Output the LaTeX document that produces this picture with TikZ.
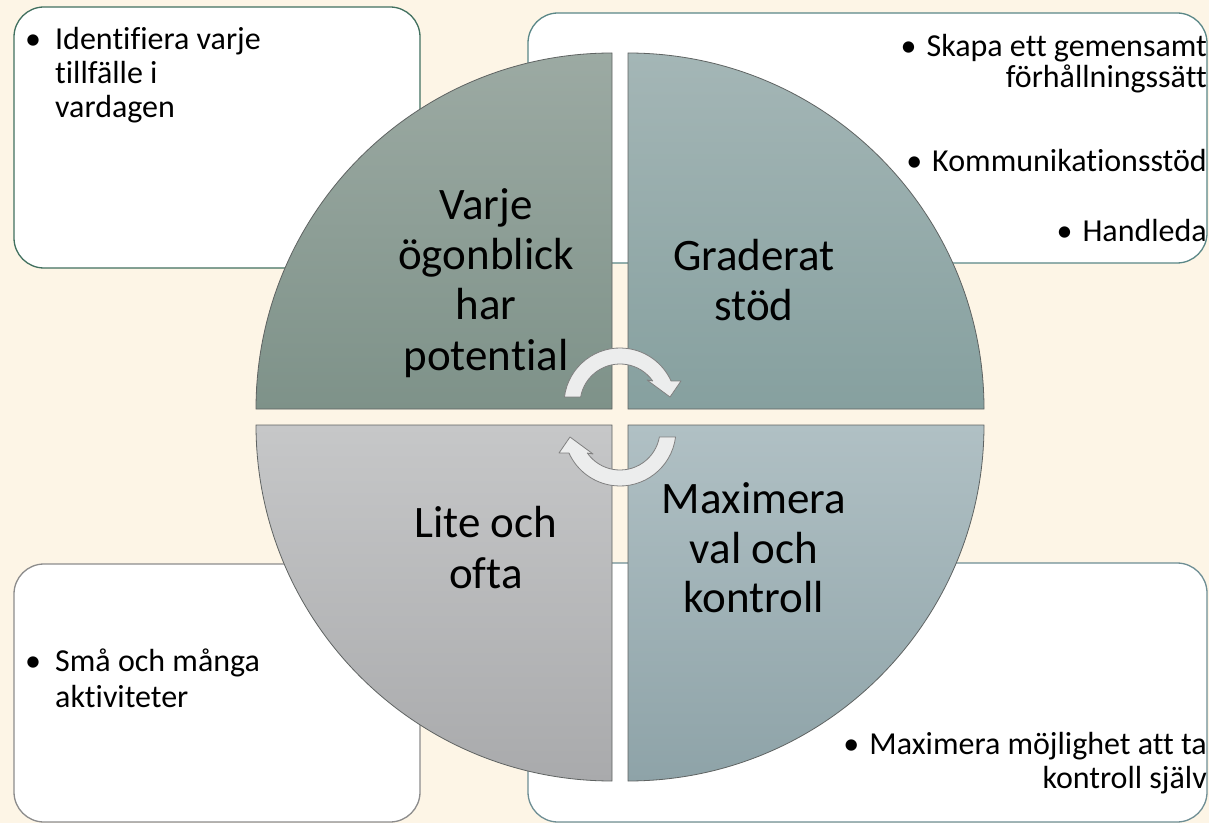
\documentclass[tikz,border=0pt]{standalone}
\usepackage{fontspec}
\setmainfont{Carlito}[Ligatures={NoCommon,NoRequired,NoContextual}]
\definecolor{bg}{HTML}{FDF5E6}
\definecolor{tlA}{HTML}{9CAAA3}\definecolor{tlB}{HTML}{7E9289}
\definecolor{trA}{HTML}{A4B6B6}\definecolor{trB}{HTML}{86A09F}
\definecolor{blA}{HTML}{C6C7C8}\definecolor{blB}{HTML}{A9AAAC}
\definecolor{brA}{HTML}{B0C0C4}\definecolor{brB}{HTML}{8EA3A8}
\definecolor{qline}{HTML}{5F6362}
\definecolor{tlbox}{HTML}{41705F}\definecolor{trbox}{HTML}{5A8787}
\definecolor{blbox}{HTML}{8C8C8C}\definecolor{brbox}{HTML}{6E8E94}
\definecolor{arrfill}{HTML}{ECEDED}\definecolor{arrline}{HTML}{808080}
\tikzset{
  infobox/.style={fill=white, line width=1.3pt, rounded corners=30pt},
  quad/.style={draw=qline, line width=0.8pt},
  cyclearrow/.style={fill=arrfill, draw=arrline, line width=0.8pt, line join=round},
  qtext/.style={font=\fontsize{45}{50}\selectfont, anchor=base, inner sep=0pt},
  btext/.style={font=\fontsize{32}{34}\selectfont, inner sep=0pt},
}
\begin{document}
\begin{tikzpicture}[x=1pt,y=1pt]
\useasboundingbox (0,0) rectangle (1209,823);
\fill[bg] (0,0) rectangle (1209,823);
% boxes
\draw[infobox, draw=tlbox] (14,555) rectangle (420,816);
\draw[infobox, draw=trbox] (528,560) rectangle (1207,810);
\draw[infobox, draw=blbox] (14,1) rectangle (420,259);
\draw[infobox, draw=brbox] (528,1) rectangle (1207,260);
% quadrants
\path[quad, top color=tlA, bottom color=tlB] (612,414) -- (256,414) arc[start angle=180, end angle=90, radius=356] -- cycle;
\path[quad, top color=trA, bottom color=trB] (628,414) -- (628,770) arc[start angle=90, end angle=0, radius=356] -- cycle;
\path[quad, top color=brA, bottom color=brB] (628,398) -- (984,398) arc[start angle=0, end angle=-90, radius=356] -- cycle;
\path[quad, top color=blA, bottom color=blB] (612,398) -- (612,42) arc[start angle=270, end angle=180, radius=356] -- cycle;
% circular arrows
\begin{scope}[shift={(620,419)}]
\path[cyclearrow] (172.8:56) arc[start angle=172.8, end angle=24.2, radius=56] -- (61,23) -- (50,7) -- (27,24) -- (35.1:40) arc[start angle=35.1, end angle=169.9, radius=40] -- cycle;
\end{scope}
\begin{scope}[shift={(620,393)}, rotate=180]
\path[cyclearrow] (172.8:56) arc[start angle=172.8, end angle=24.2, radius=56] -- (61,23) -- (50,7) -- (27,24) -- (35.1:40) arc[start angle=35.1, end angle=169.9, radius=40] -- cycle;
\end{scope}
% quadrant texts
\node[qtext] (q1a) at (486,603) {Varje};
\node[qtext] (q1b) at (486,553) {ögonblick};
\node[qtext] (q1c) at (486,503) {har};
\node[qtext] (q1d) at (486,453) {potential};
\node[qtext] (q2a) at (754,552) {Graderat};
\node[qtext] (q2b) at (754,502) {stöd};
\node[qtext] (q3a) at (754,310) {Maximera};
\node[qtext] (q3b) at (754,260) {val och};
\node[qtext] (q3c) at (754,211) {kontroll};
\node[qtext] (q4a) at (486,286) {Lite och};
\node[qtext] (q4b) at (486,235) {ofta};
% box texts: top left
\node[btext, anchor=base west] (t1a) at (25,773) {\makebox[30pt][l]{•}Identifiera varje};
\node[btext, anchor=base west] (t1b) at (55,739) {tillfälle i};
\node[btext, anchor=base west] (t1c) at (55,705) {vardagen};
% top right
\node[btext, anchor=base east] (t2a) at (1207,766) {\makebox[26pt][l]{•}Skapa ett gemensamt};
\node[btext, anchor=base east] (t2b) at (1207,735) {förhållningssätt};
\node[btext, anchor=base east] (t2c) at (1207,651) {\makebox[26pt][l]{•}Kommunikationsstöd};
\node[btext, anchor=base east] (t2d) at (1207,581) {\makebox[26pt][l]{•}Handleda};
% bottom right
\node[btext, anchor=base east] (t3a) at (1207,69) {\makebox[26pt][l]{•}Maximera möjlighet att ta};
\node[btext, anchor=base east] (t3b) at (1207,35) {kontroll själv};
% bottom left
\node[btext, anchor=base west] (t4a) at (25,152) {\makebox[30pt][l]{•}Små och många};
\node[btext, anchor=base west] (t4b) at (55,116) {aktiviteter};
\end{tikzpicture}
\end{document}
